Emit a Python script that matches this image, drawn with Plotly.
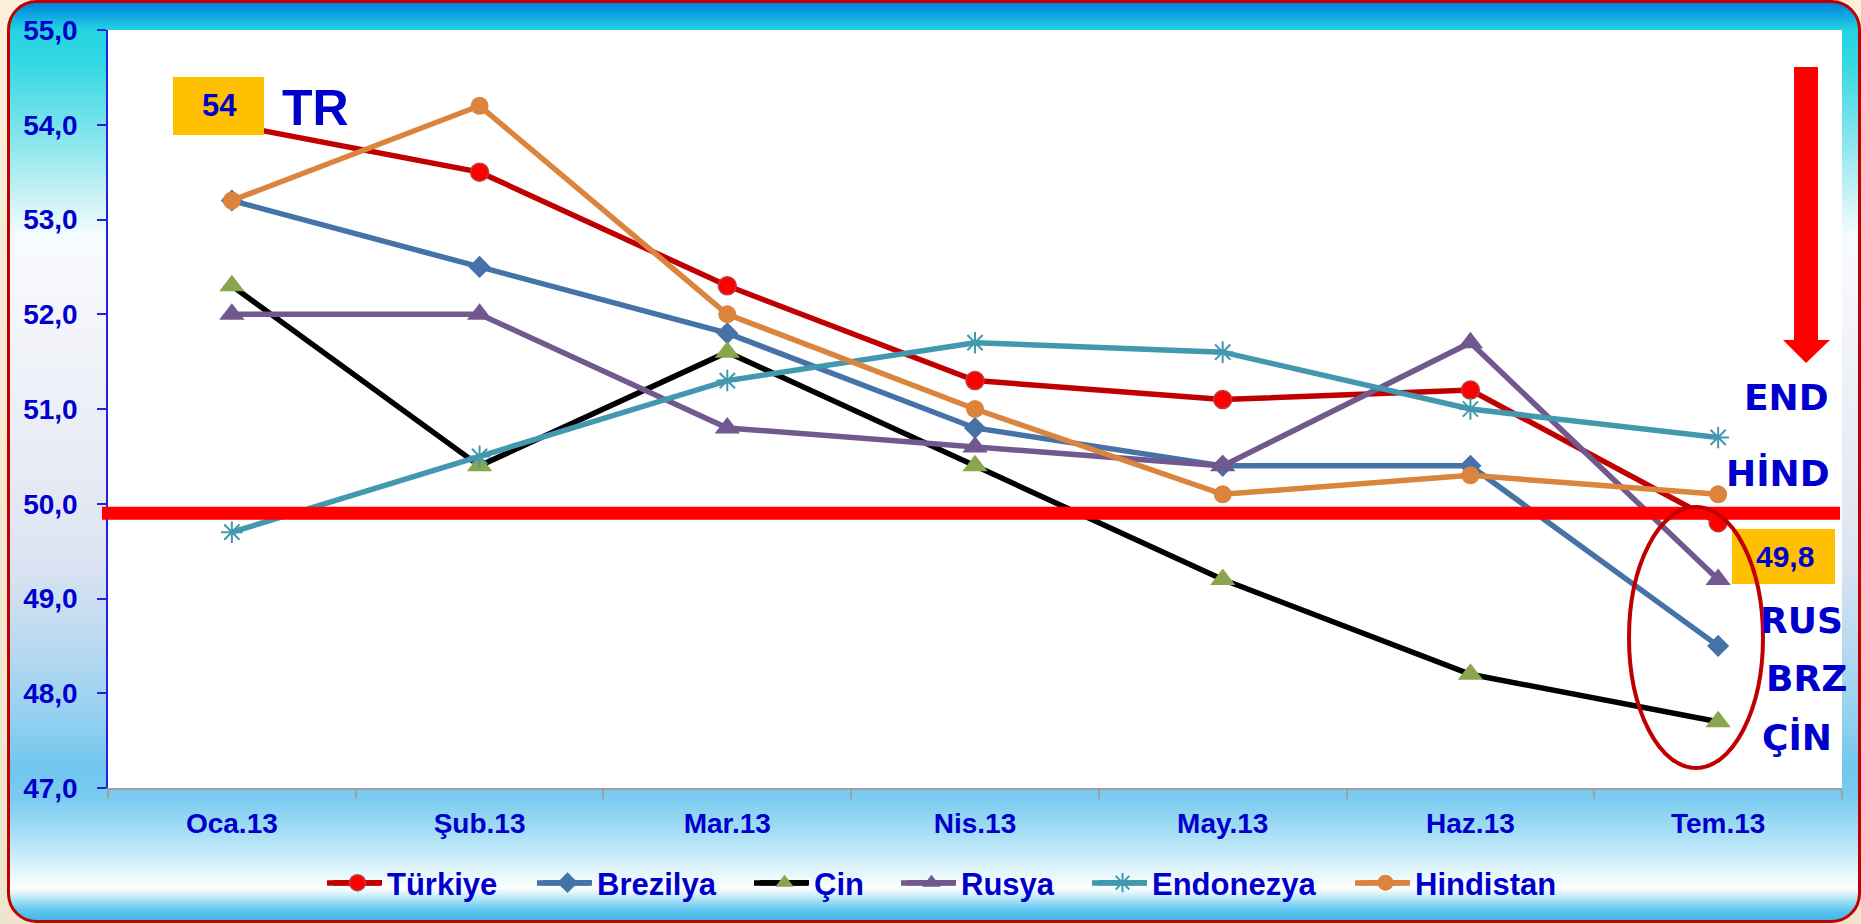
import base64
import plotly.graph_objects as go

# ---------------- data ----------------
months = ["Oca.13", "Şub.13", "Mar.13", "Nis.13", "May.13", "Haz.13", "Tem.13"]
turkiye = [54.0, 53.5, 52.3, 51.3, 51.1, 51.2, 49.8]
brezilya = [53.2, 52.5, 51.8, 50.8, 50.4, 50.4, 48.5]
cin = [52.3, 50.4, 51.6, 50.4, 49.2, 48.2, 47.7]
rusya = [52.0, 52.0, 50.8, 50.6, 50.4, 51.7, 49.2]
endonezya = [49.7, 50.5, 51.3, 51.7, 51.6, 51.0, 50.7]
hindistan = [53.2, 54.2, 52.0, 51.0, 50.1, 50.3, 50.1]
threshold = 49.9
y_ticks = [47, 48, 49, 50, 51, 52, 53, 54, 55]
end_labels = ["END", "HİND", "RUS", "BRZ", "ÇİN"]

# ---------------- geometry helpers ----------------
W, H = 1861, 924
L, R, T, B = 108, 1842, 30, 788
PW, PH = R - L, B - T


def px(x):
    return (x - L) / PW


def py(y):
    return (B - y) / PH


BLUE = "#0000CC"
FONT = "Liberation Sans, Arial, sans-serif"
VFONT = "DejaVu Sans, Verdana, sans-serif"

# ---------------- background (gradient frame) ----------------
stops = [
    (0, "#0078DC"), (12, "#0A9CE0"), (30, "#24D4E0"), (60, "#30D8E2"),
    (120, "#72E2EA"), (180, "#B6EEF2"), (235, "#F4FCFD"), (260, "#F8F9FC"),
    (480, "#E6EAF4"), (560, "#DCE4F2"), (640, "#BCDAF0"), (720, "#92D0F0"),
    (770, "#70C6EE"), (800, "#7CCCF0"), (840, "#B0E2F6"), (875, "#E8F8FC"),
    (888, "#FFFFFF"), (894, "#D8F2FB"), (902, "#9ADCF6"), (910, "#60C6F0"),
    (921, "#40B4E8"),
]
stop_xml = "".join(
    f"<stop offset='{o / H:.4f}' stop-color='{c}'/>" for o, c in stops
)
svg = (
    f"<svg xmlns='http://www.w3.org/2000/svg' width='{W}' height='{H}' "
    f"viewBox='0 0 {W} {H}' preserveAspectRatio='none'>"
    f"<defs><linearGradient id='g' x1='0' y1='0' x2='0' y2='{H}' "
    f"gradientUnits='userSpaceOnUse'>{stop_xml}</linearGradient>"
    f"<linearGradient id='bg' x1='0' y1='0' x2='0' y2='1'>"
    f"<stop offset='0' stop-color='#FBEEDA'/><stop offset='1' stop-color='#EFE4CC'/>"
    f"</linearGradient></defs>"
    f"<rect x='0' y='0' width='{W}' height='{H}' fill='url(#bg)'/>"
    f"<rect x='8.5' y='1.5' width='{W - 10}' height='{H - 4}' rx='28' ry='28' "
    f"fill='url(#g)' stroke='#C00000' stroke-width='3'/>"
    f"<rect x='{L}' y='{T}' width='{PW}' height='{PH}' fill='#FFFFFF'/>"
    f"</svg>"
)
svg_uri = "data:image/svg+xml;base64," + base64.b64encode(svg.encode("utf-8")).decode()

# ---------------- traces ----------------
series = [
    ("Türkiye", turkiye, "#C00000", dict(symbol="circle", size=18, color="#FF0000",
                                         line=dict(color="#B5403D", width=1.5))),
    ("Brezilya", brezilya, "#4572A7", dict(symbol="diamond", size=17, color="#4572A7")),
    ("Çin", cin, "#000000", dict(symbol="triangle-up", size=22, color="#89A54E")),
    ("Rusya", rusya, "#71588F", dict(symbol="triangle-up", size=22, color="#71588F")),
    ("Endonezya", endonezya, "#4198AF", dict(symbol="asterisk-open", size=18,
                                             color="#4198AF", line=dict(color="#4198AF", width=2))),
    ("Hindistan", hindistan, "#DB843D", dict(symbol="circle", size=18, color="#DB843D")),
]
legend_sym_x = [354, 564, 781, 928, 1119, 1382]
legend_yc = 883
legend_y = py(legend_yc)

fig = go.Figure()
legend_layouts = {}
legend_lines = []
for i, (name, vals, lc, mk) in enumerate(series):
    lname = "legend" if i == 0 else f"legend{i + 1}"
    fig.add_trace(go.Scatter(
        x=months, y=vals, name=name, mode="lines+markers",
        line=dict(color=lc, width=5.5), marker=mk, legend=lname,
    ))
    legend_layouts[lname] = dict(
        x=px(legend_sym_x[i] - 26), y=legend_y, xref="paper", yref="paper",
        xanchor="left", yanchor="middle", orientation="h",
        bgcolor="rgba(0,0,0,0)", borderwidth=0, itemwidth=49,
        font=dict(family=FONT, size=31, color=BLUE, weight="bold"),
    )
    # longer legend key line (Excel style), drawn beneath the legend symbol
    legend_lines.append(dict(
        type="line", xref="paper", yref="paper",
        x0=px(legend_sym_x[i] - 27), x1=px(legend_sym_x[i] + 27),
        y0=legend_y, y1=legend_y, line=dict(color=lc, width=5.5), layer="above"))

# ---------------- shapes ----------------
shapes = [
    # threshold line
    dict(type="line", xref="paper", yref="y", x0=px(102), x1=px(1840),
         y0=threshold, y1=threshold, line=dict(color="#FF0000", width=13), layer="above"),
    # "54" box
    dict(type="rect", xref="paper", yref="paper", x0=px(173), x1=px(264), y0=py(135), y1=py(77),
         fillcolor="#FFC000", line=dict(width=0), layer="above"),
    # "49,8" box
    dict(type="rect", xref="paper", yref="paper", x0=px(1732), x1=px(1835), y0=py(584), y1=py(529),
         fillcolor="#FFC000", line=dict(width=0), layer="above"),
    # ellipse
    dict(type="circle", xref="paper", yref="paper", x0=px(1629), x1=px(1763), y0=py(768), y1=py(507),
         line=dict(color="#C00000", width=4), fillcolor="rgba(0,0,0,0)", layer="above"),
    # down arrow
    dict(type="path", xref="paper", yref="paper",
         path=(f"M {px(1794)},{py(67)} L {px(1818)},{py(67)} L {px(1818)},{py(340)} "
               f"L {px(1830)},{py(340)} L {px(1806)},{py(363)} L {px(1783)},{py(340)} "
               f"L {px(1794)},{py(340)} Z"),
         fillcolor="#FF0000", line=dict(width=0), layer="above"),
] + legend_lines


def fmt(v):
    s = f"{v:.1f}".replace(".", ",")
    return s[:-2] if s.endswith(",0") else s


annotations = [
    dict(text=fmt(turkiye[0]), x=px(219), y=py(106), xref="paper", yref="paper",
         showarrow=False, xanchor="center", yanchor="middle",
         font=dict(family=FONT, size=31, color=BLUE, weight="bold")),
    dict(text="TR", x=px(315), y=py(108), xref="paper", yref="paper",
         showarrow=False, xanchor="center", yanchor="middle",
         font=dict(family=FONT, size=50, color=BLUE, weight="bold")),
    dict(text=fmt(turkiye[-1]), x=px(1785), y=py(556), xref="paper", yref="paper",
         showarrow=False, xanchor="center", yanchor="middle",
         font=dict(family=FONT, size=30, color=BLUE, weight="bold")),
]
label_pos = [(1786, 397), (1778, 473), (1801, 620), (1806, 678), (1797, 737)]
for txt, (lx, ly) in zip(end_labels, label_pos):
    annotations.append(dict(text=txt, x=px(lx), y=py(ly), xref="paper", yref="paper",
                            showarrow=False, xanchor="center", yanchor="middle",
                            font=dict(family=VFONT, size=36, color=BLUE, weight="bold")))

fig.update_layout(
    width=W, height=H,
    margin=dict(l=L, r=W - R, t=T, b=H - B, pad=0),
    paper_bgcolor="#F6EBD6", plot_bgcolor="#FFFFFF",
    separators=",.",
    showlegend=True,
    images=[dict(source=svg_uri, xref="paper", yref="paper", x=-L / PW, y=1 + T / PH,
                 sizex=W / PW, sizey=H / PH, xanchor="left", yanchor="top",
                 sizing="stretch", layer="below")],
    shapes=shapes, annotations=annotations,
    **legend_layouts,
)
fig.update_xaxes(
    type="category", categoryorder="array", categoryarray=months,
    range=[-0.5, len(months) - 0.5],
    showline=True, linecolor="#A0A0A0", linewidth=2,
    ticks="outside", tickson="boundaries", ticklen=9, tickwidth=2, tickcolor="#A0A0A0",
    ticklabelstandoff=9, showgrid=False, zeroline=False,
    tickfont=dict(family=FONT, size=28, color=BLUE, weight="bold"),
)
fig.update_yaxes(
    range=[y_ticks[0], y_ticks[-1]], tickvals=y_ticks, tickformat=".1f",
    showline=True, linecolor="#2222E0", linewidth=1.5,
    ticks="outside", ticklen=9, tickwidth=1.5, tickcolor="#2222E0",
    ticklabelstandoff=14, showgrid=False, zeroline=False,
    tickfont=dict(family=FONT, size=28, color=BLUE, weight="bold"),
)

fig.write_html(
    "out.html",
    config={"displayModeBar": False},
    post_script="document.body.style.margin='0';document.body.style.overflow='hidden';",
)
